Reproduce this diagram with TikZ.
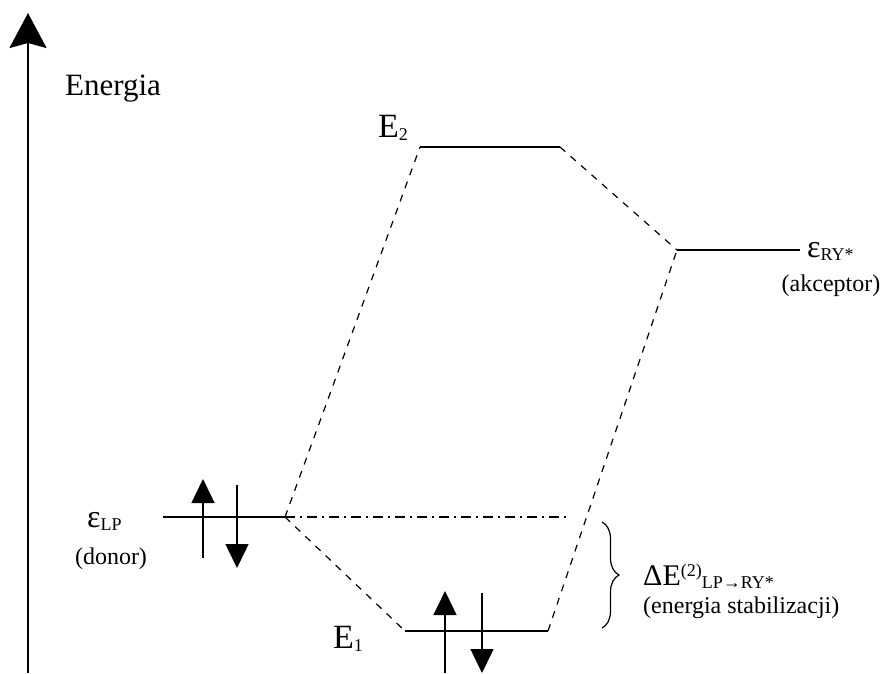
\documentclass[tikz,border=0pt]{standalone}
\usepackage{fontspec}
\setmainfont{Liberation Serif}
\usetikzlibrary{arrows.meta,decorations.pathreplacing}

\newcommand{\lowtxt}[1]{\raisebox{-3pt}{\fontsize{18}{18}\selectfont #1}}
\newcommand{\hightxt}[1]{\raisebox{9pt}{\fontsize{18}{18}\selectfont #1}}

\begin{document}
\begin{tikzpicture}[x=1pt,y=-1pt]
\tikzstyle{every node}+=[inner sep=0pt]
\tikzstyle{level}=[line width=1.6pt]
\tikzstyle{corr}=[line width=1.2pt, dash pattern=on 7pt off 7pt]
\tikzstyle{spin}=[line width=1.5pt, -{Triangle[width=23pt,length=24pt]}]
\tikzstyle{big}=[font=\fontsize{31}{32}\selectfont]
\tikzstyle{small}=[font=\fontsize{24}{26}\selectfont]
\useasboundingbox (0,0) rectangle (890,673);

% energy axis
\coordinate (axis0) at (28,673);
\coordinate (axis1) at (28,13);
\draw [line width=2.4pt, -{Stealth[width=37pt,length=35pt,inset=5pt]}] (axis0) -- (axis1);
\node [big, anchor=base] (energia) at (113,95) {Energia};

% orbital levels
\coordinate (lpL) at (163,517);
\coordinate (lpR) at (285,517);
\coordinate (ryL) at (677,250);
\coordinate (ryR) at (800,250);
\coordinate (e2L) at (420,147);
\coordinate (e2R) at (560,147);
\coordinate (e1L) at (405,631);
\coordinate (e1R) at (548,631);
\coordinate (dd) at (568,517);
\draw [level] (lpL) -- (lpR);
\draw [level] (ryL) -- (ryR);
\draw [level] (e2L) -- (e2R);
\draw [level] (e1L) -- (e1R);

% correlation lines
\draw [corr] (lpR) -- (e2L);
\draw [corr] (e2R) -- (ryL);
\draw [corr] (lpR) -- (e1L);
\draw [corr] (e1R) -- (ryL);
\draw [line width=1.2pt, dash pattern=on 10pt off 5pt on 2pt off 5pt] (lpR) -- (dd);

% electron pairs
\coordinate (lpup0) at (203,558);
\coordinate (lpup1) at (203,479);
\coordinate (lpdn0) at (237,485);
\coordinate (lpdn1) at (237,568);
\draw [spin] (lpup0) -- (lpup1);
\draw [spin] (lpdn0) -- (lpdn1);
\coordinate (e1up0) at (445,673);
\coordinate (e1up1) at (445,591);
\coordinate (e1dn0) at (482,593);
\coordinate (e1dn1) at (482,673);
\draw [spin] (e1up0) -- (e1up1);
\draw [spin] (e1dn0) -- (e1dn1);

% labels
\node [anchor=base west] (E2) at (378,137) {\fontsize{34}{34}\selectfont E\lowtxt{2}};
\node [anchor=base west] (E1) at (333,648) {\fontsize{34}{34}\selectfont E\lowtxt{1}};
\node [anchor=base west] (epsLP) at (87,527) {\fontsize{32}{32}\selectfont ε\lowtxt{LP}};
\node [small, anchor=base] (donor) at (111,564) {(donor)};
\node [anchor=base west] (epsRY) at (807,257) {\fontsize{32}{32}\selectfont ε\lowtxt{RY*}};
\node [small, anchor=base] (akceptor) at (831,291) {(akceptor)};

% stabilization energy
\coordinate (br0) at (602,522);
\coordinate (br1) at (602,628);
\draw [line width=1.2pt, decorate, decoration={brace, amplitude=17pt}] (br0) -- (br1);
\node [anchor=base west] (dE) at (643,585) {\fontsize{30}{30}\selectfont ΔE\hightxt{(2)}\lowtxt{LP→RY*}};
\node [small, anchor=base west] (stab) at (643,613) {(energia stabilizacji)};
\end{tikzpicture}
\end{document}
